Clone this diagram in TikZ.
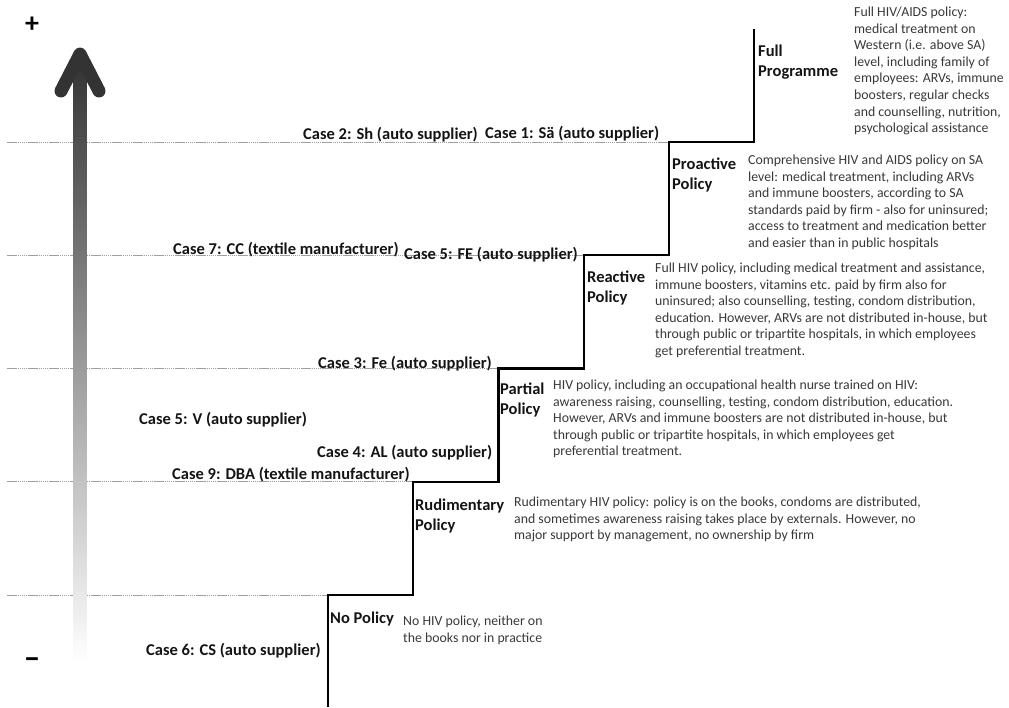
\documentclass[tikz,border=0pt]{standalone}
\usepackage{fontspec}
\setmainfont{Carlito}
\begin{document}
\begin{tikzpicture}[x=1pt,y=-1pt,
    case/.style={font=\fontsize{16.5}{20}\selectfont\bfseries,text=black!92,inner sep=0pt,anchor=base west},
    stage/.style={case,align=left},
    desc/.style={font=\fontsize{13.8}{16.6}\selectfont,text=black!78,inner sep=0pt,anchor=base west,align=left},
    rung/.style={gray!75,line width=1pt,dash pattern=on 1.5pt off 0.6pt}]
  \useasboundingbox (0,0) rectangle (1009,707);
  \def\dx{85.25};
  \def\dy{113.25};
  \coordinate (edge) at (7,0);
  \coordinate (foot) at (328,707);
  \foreach \i in {0,...,5} {
      \coordinate (s\i) at (328+\dx*\i,595-\dy*\i);
    }
  \foreach \i in {0,...,4} {
      \draw[rung] (edge |- s\i) -- (s\i);
    }
  \shade[top color=black!80,bottom color=white] (73.5,58) rectangle (86.5,662);
  \draw[black!80,line width=13pt,line cap=round,line join=round] (61,91) -- (80,54) -- (99,91);
  \node[font=\fontsize{28}{28}\selectfont\bfseries,inner sep=0pt] (plus) at (32,25) {+};
  \node[font=\fontsize{33}{33}\selectfont\bfseries,inner sep=0pt] (minus) at (32,663) {–};
  \draw[line width=2.3pt] (foot) -- (s0) -| (s1) -| (s2) -| (s3) -| (s4) -| (s5);
  \node[case] (c2) at (303,139) {Case 2: Sh (auto supplier)};
  \node[case] (c1) at (485,138) {Case 1: Sä (auto supplier)};
  \node[case] (c7) at (173,254) {Case 7: CC (textile manufacturer)};
  \node[case] (c5fe) at (404,259) {Case 5: FE (auto supplier)};
  \node[case] (c3) at (318,368) {Case 3: Fe (auto supplier)};
  \node[case] (c5v) at (139,424) {Case 5: V (auto supplier)};
  \node[case] (c4) at (317,457) {Case 4: AL (auto supplier)};
  \node[case] (c9) at (172,479) {Case 9: DBA (textile manufacturer)};
  \node[case] (c6) at (146,655) {Case 6: CS (auto supplier)};
  \node[stage] (l5) at (758,76) {Full\\Programme};
  \node[stage] (l4) at (672,189) {Proactive\\Policy};
  \node[stage] (l3) at (587,302) {Reactive\\Policy};
  \node[stage] (l2) at (500,414) {Partial\\Policy};
  \node[stage] (l1) at (415,530) {Rudimentary\\Policy};
  \node[stage] (l0) at (330,623) {No Policy};
  \node[desc] (d5) at (854,132.7) {Full HIV/AIDS policy:\\medical treatment on\\Western (i.e. above SA)\\level, including family of\\employees: ARVs, immune\\boosters, regular checks\\and counselling, nutrition,\\psychological assistance};
  \node[desc] (d4) at (748,247.5) {Comprehensive HIV and AIDS policy on SA\\level: medical treatment, including ARVs\\and immune boosters, according to SA\\standards paid by firm - also for uninsured;\\access to treatment and medication better\\and easier than in public hospitals};
  \node[desc] (d3) at (655,355.5) {Full HIV policy, including medical treatment and assistance,\\immune boosters, vitamins etc. paid by firm also for\\uninsured; also counselling, testing, condom distribution,\\education. However, ARVs are not distributed in-house, but\\through public or tripartite hospitals, in which employees\\get preferential treatment.};
  \node[desc] (d2) at (553,455.9) {HIV policy, including an occupational health nurse trained on HIV:\\awareness raising, counselling, testing, condom distribution, education.\\However, ARVs and immune boosters are not distributed in-house, but\\through public or tripartite hospitals, in which employees get\\preferential treatment.};
  \node[desc] (d1) at (514,539.7) {Rudimentary HIV policy: policy is on the books, condoms are distributed,\\and sometimes awareness raising takes place by externals. However, no\\major support by management, no ownership by firm};
  \node[desc] (d0) at (403,642.1) {No HIV policy, neither on\\the books nor in practice};
\end{tikzpicture}
\end{document}
